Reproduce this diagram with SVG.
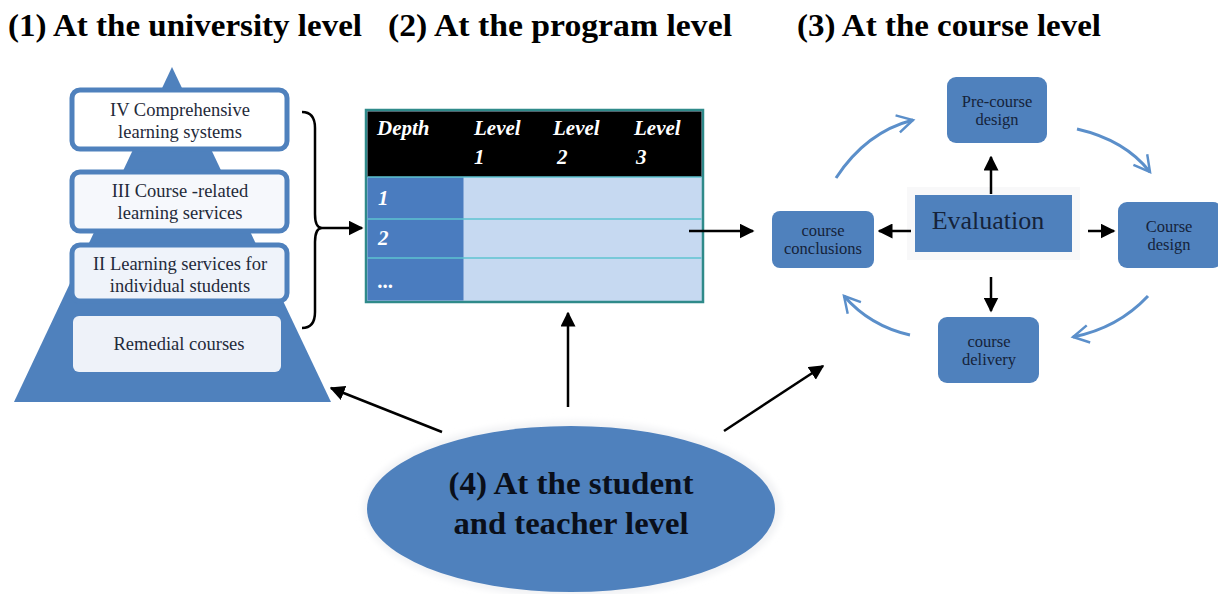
<svg xmlns="http://www.w3.org/2000/svg" width="1218" height="594" viewBox="0 0 1218 594">
  <style>
    .title { font-family: "Liberation Serif", serif; font-weight: bold; font-size: 32px; fill: #000; }
    .pyr { font-family: "Liberation Serif", serif; font-size: 18.5px; fill: #1f2a3a; text-anchor: middle; }
    .th { font-family: "Liberation Serif", serif; font-weight: bold; font-style: italic; font-size: 21px; fill: #fff; }
    .node { fill: #4f81bd; }
    .nt { font-family: "Liberation Serif", serif; font-size: 16.5px; fill: #15233a; text-anchor: middle; }
    .blk { stroke: #000; stroke-width: 2.5; fill: none; }
    .cyc { stroke: #5b8fca; stroke-width: 3; fill: none; }
    .frame { stroke: #4f81bd; stroke-width: 5; }
  </style>
  <defs>
    <marker id="ah" viewBox="0 0 10 10" refX="9" refY="5" markerWidth="6" markerHeight="6" orient="auto" markerUnits="strokeWidth">
      <path d="M0,0 L10,5 L0,10 Z" fill="#000"/>
    </marker>
    <marker id="chev" viewBox="0 0 12 12" refX="10" refY="6" markerWidth="7" markerHeight="7" orient="auto" markerUnits="strokeWidth">
      <path d="M1,1 L10,6 L1,11" fill="none" stroke="#5b8fca" stroke-width="1.4"/>
    </marker>
    <filter id="halo" x="-10%" y="-10%" width="120%" height="120%">
      <feGaussianBlur stdDeviation="3"/>
    </filter>
  </defs>

  <rect width="1218" height="594" fill="#fff"/>

  <!-- headings -->
  <text class="title" x="8" y="36" textLength="354" lengthAdjust="spacingAndGlyphs">(1) At the university level</text>
  <text class="title" x="388" y="36" textLength="344" lengthAdjust="spacingAndGlyphs">(2)  At the program level</text>
  <text class="title" x="797" y="36" textLength="304" lengthAdjust="spacingAndGlyphs">(3) At the course level</text>

  <!-- university level pyramid -->
  <g id="pyramid">
    <polygon points="172,67 14,402 331,402" fill="#4f81bd"/>
    <g id="tier4">
      <rect class="frame" x="72" y="90" width="215" height="59" rx="8" fill="#ffffff"/>
      <text class="pyr" x="180" y="116">IV Comprehensive</text>
      <text class="pyr" x="180" y="138">learning systems</text>
    </g>
    <g id="tier3">
      <rect class="frame" x="72" y="172" width="215" height="59" rx="8" fill="#f6f8fc"/>
      <text class="pyr" x="180" y="197">III Course -related</text>
      <text class="pyr" x="180" y="219">learning services</text>
    </g>
    <g id="tier2">
      <rect class="frame" x="72" y="245" width="215" height="56" rx="8" fill="#eff3fa"/>
      <text class="pyr" x="180" y="270">II Learning services for</text>
      <text class="pyr" x="180" y="292">individual students</text>
    </g>
    <g id="tier1">
      <rect x="73" y="316" width="208" height="56" rx="6" fill="#eef2f9"/>
      <text class="pyr" x="179" y="350">Remedial courses</text>
    </g>
  </g>

  <!-- program level matrix -->
  <g id="matrix">
    <rect x="366" y="110" width="337" height="192" fill="#c6d9f1" stroke="#2f8a8a" stroke-width="2.5"/>
    <rect x="367.5" y="111.5" width="334" height="65.5" fill="#000"/>
    <rect x="367.5" y="177" width="96" height="123.5" fill="#4a7cbf"/>
    <line x1="367.5" y1="219" x2="701.5" y2="219" stroke="#5ec3d0" stroke-width="1.5"/>
    <line x1="367.5" y1="258" x2="701.5" y2="258" stroke="#5ec3d0" stroke-width="1.5"/>
    <line x1="367.5" y1="177" x2="701.5" y2="177" stroke="#5ec3d0" stroke-width="1.5"/>
    <text class="th" x="377" y="135">Depth</text>
    <text class="th" x="474" y="135">Level</text>
    <text class="th" x="553" y="135">Level</text>
    <text class="th" x="634" y="135">Level</text>
    <text class="th" x="474" y="164">1</text>
    <text class="th" x="557" y="164">2</text>
    <text class="th" x="636" y="164">3</text>
    <text class="th" x="378" y="205">1</text>
    <text class="th" x="378" y="245">2</text>
    <text class="th" x="378" y="288">...</text>
  </g>

  <!-- course level cycle -->
  <g id="evaluation">
    <rect x="907" y="187" width="173" height="73" fill="#f8f8f9"/>
    <rect class="node" x="915" y="195" width="157" height="57"/>
    <text x="988" y="229" font-family="Liberation Serif, serif" font-size="26" fill="#15233a" text-anchor="middle">Evaluation</text>
  </g>
  <g id="pre-course-design">
    <rect class="node" x="947" y="77" width="100" height="66" rx="9"/>
    <text class="nt" x="997" y="107">Pre-course</text>
    <text class="nt" x="997" y="125">design</text>
  </g>
  <g id="course-design">
    <rect class="node" x="1118" y="202" width="104" height="66" rx="9"/>
    <text class="nt" x="1169" y="232">Course</text>
    <text class="nt" x="1169" y="250">design</text>
  </g>
  <g id="course-delivery">
    <rect class="node" x="938" y="317" width="101" height="66" rx="9"/>
    <text class="nt" x="989" y="347">course</text>
    <text class="nt" x="989" y="365">delivery</text>
  </g>
  <g id="course-conclusions">
    <rect class="node" x="772" y="211" width="102" height="57" rx="8"/>
    <text class="nt" x="823" y="236">course</text>
    <text class="nt" x="823" y="254">conclusions</text>
  </g>

  <!-- student and teacher level -->
  <g id="student-teacher">
    <ellipse cx="572" cy="509" rx="209" ry="88" fill="#f1f2f4" filter="url(#halo)"/>
    <ellipse cx="571" cy="509" rx="204" ry="83" fill="#4f81bd"/>
    <text x="571" y="494" font-family="Liberation Serif, serif" font-weight="bold" font-size="31" fill="#0a0f1a" text-anchor="middle" textLength="245" lengthAdjust="spacingAndGlyphs">(4) At the student</text>
    <text x="571" y="534" font-family="Liberation Serif, serif" font-weight="bold" font-size="31" fill="#0a0f1a" text-anchor="middle" textLength="235" lengthAdjust="spacingAndGlyphs">and teacher level</text>
  </g>

  <g id="connectors">
    <!-- brace gathering tiers II-IV into the matrix -->
    <path class="blk" stroke-width="2" d="M302,112 Q315,112 315,128 L315,214 Q315,228 322,228 Q315,228 315,242 L315,312 Q315,328 302,328"/>
    <line class="blk" x1="322" y1="228" x2="362" y2="228" marker-end="url(#ah)"/>
    <!-- matrix to course cycle -->
    <line class="blk" x1="689" y1="231" x2="753" y2="231" marker-end="url(#ah)"/>
    <!-- evaluation outputs -->
    <line class="blk" x1="991" y1="194" x2="991" y2="157" marker-end="url(#ah)"/>
    <line class="blk" x1="911" y1="231" x2="879" y2="231" marker-end="url(#ah)"/>
    <line class="blk" x1="1088" y1="231" x2="1114" y2="231" marker-end="url(#ah)"/>
    <line class="blk" x1="991" y1="277" x2="991" y2="311" marker-end="url(#ah)"/>
    <!-- cycle -->
    <path class="cyc" d="M836,178 Q866,132 913,120" marker-end="url(#chev)"/>
    <path class="cyc" d="M1077,129 Q1125,140 1150,172" marker-end="url(#chev)"/>
    <path class="cyc" d="M1148,296 Q1118,328 1073,337" marker-end="url(#chev)"/>
    <path class="cyc" d="M910,335 Q870,326 844,296" marker-end="url(#chev)"/>
    <!-- student and teacher level feeds all three -->
    <line class="blk" x1="442" y1="432" x2="331" y2="388" marker-end="url(#ah)"/>
    <line class="blk" x1="568" y1="407" x2="568" y2="313" marker-end="url(#ah)"/>
    <line class="blk" x1="724" y1="431" x2="823" y2="366" marker-end="url(#ah)"/>
  </g>
</svg>
